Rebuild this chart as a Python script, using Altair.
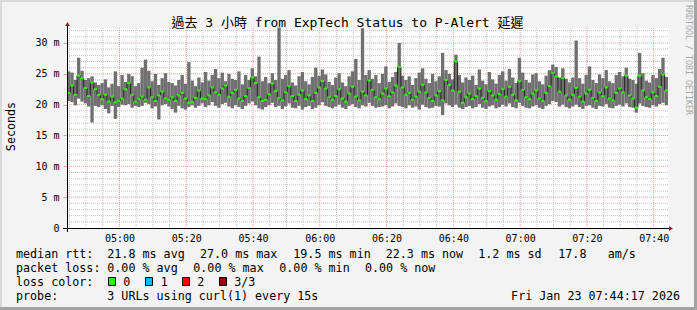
import altair as alt
import pandas as pd

# ------------------------------------------------------------------ data
TITLE = "過去 3 小時 from ExpTech Status to P-Alert 延遲"
START_MIN = 44 + 17 / 60          # 04:44:17, minutes after 04:00
STEP_MIN = 1.0                    # one column per minute
N_COLS = 180

median_ms = [
    21.9, 23.1, 21.6, 24.7, 24.3, 22.7, 21.4, 23.6, 22.5, 21.6,
    20.9, 21.6, 20.5, 21.3, 20.4, 20.6, 21.0, 22.5, 23.5, 21.6,
    20.5, 20.9, 21.3, 20.8, 22.8, 21.2, 20.6, 21.5, 22.1, 21.0,
    20.8, 21.2, 20.6, 21.5, 21.9, 21.0, 20.3, 20.4, 21.1, 22.3,
    21.0, 20.9, 21.5, 22.8, 22.0, 21.6, 22.6, 23.1, 21.3, 21.9,
    22.4, 21.0, 20.6, 21.4, 22.7, 24.4, 23.5, 21.2, 20.6, 20.8,
    21.7, 23.4, 22.2, 21.1, 20.7, 22.0, 23.0, 21.4, 20.6, 21.6,
    22.3, 20.9, 21.5, 20.6, 21.9, 22.8, 23.8, 22.6, 21.2, 20.8,
    21.4, 22.5, 21.0, 20.5, 21.8, 22.9, 21.3, 20.7, 22.1, 21.5,
    23.9, 22.4, 21.2, 20.9, 21.8, 22.6, 21.4, 22.0, 23.1, 26.1,
    22.8, 21.6, 21.9, 20.8, 21.3, 22.1, 23.2, 22.0, 21.1, 20.6,
    21.5, 22.2, 20.7, 24.0, 23.2, 22.3, 27.0, 22.1, 20.3, 21.2,
    21.8, 20.9, 21.4, 22.6, 21.1, 20.6, 22.2, 21.5, 20.8, 21.7,
    22.5, 21.3, 22.9, 21.6, 20.7, 23.8, 22.4, 21.2, 20.9, 21.8,
    22.3, 21.0, 20.6, 21.9, 23.0, 25.1, 24.6, 22.1, 24.3, 21.5,
    20.8, 21.6, 22.7, 21.3, 20.5, 21.8, 22.4, 21.1, 20.6, 22.0,
    21.4, 22.8, 21.0, 20.7, 21.9, 22.6, 22.0, 24.7, 21.5, 21.0,
    19.5, 24.7, 22.3, 21.2, 20.9, 22.0, 21.4, 22.9, 24.9, 22.3,
]
max_ms = [
    25.4, 25.2, 24.0, 27.6, 25.5, 24.0, 24.3, 24.6, 23.6, 23.2,
    23.5, 24.1, 22.8, 23.4, 25.4, 23.0, 24.8, 23.7, 25.0, 24.6,
    23.0, 23.5, 26.0, 27.3, 25.5, 23.8, 25.0, 23.2, 24.3, 25.1,
    23.7, 23.5, 23.1, 24.0, 24.8, 23.4, 26.9, 23.9, 23.0, 24.4,
    23.6, 25.3, 23.9, 24.8, 25.8, 24.3, 25.2, 23.8, 25.0, 24.2,
    24.0, 25.4, 23.3, 24.8, 24.0, 25.9, 24.6, 27.8, 23.8, 24.5,
    23.5, 25.1, 24.0, 32.5, 24.2, 24.8, 25.6, 23.6, 23.1, 24.6,
    25.3, 23.8, 23.3, 24.5, 26.0, 24.7, 25.7, 24.9, 23.7, 23.2,
    24.4, 25.1, 23.6, 23.0, 24.6, 25.4, 27.4, 24.0, 32.4, 24.8,
    25.6, 24.2, 24.8, 23.5, 25.0, 26.2, 23.7, 24.5, 25.3, 30.0,
    24.7, 24.0, 24.6, 23.2, 24.3, 25.2, 25.9, 24.2, 23.5, 25.0,
    23.8, 24.6, 28.4, 25.6, 25.0, 24.1, 28.1, 24.8, 23.6, 24.4,
    24.0, 24.7, 23.2, 25.7, 23.9, 23.3, 25.3, 24.1, 23.4, 24.8,
    25.4, 23.9, 25.8, 24.4, 23.5, 27.6, 25.2, 24.0, 23.6, 24.9,
    25.1, 23.8, 23.3, 24.7, 25.6, 26.5, 26.1, 24.4, 25.9, 24.2,
    23.6, 24.4, 30.4, 24.3, 23.4, 24.8, 26.2, 24.0, 23.5, 24.9,
    24.3, 25.6, 23.8, 23.5, 24.8, 25.3, 24.6, 26.0, 24.2, 24.0,
    23.4, 28.4, 25.1, 23.9, 23.6, 24.8, 24.3, 25.8, 27.6, 24.5,
]
min_ms = [
    20.6, 20.4, 19.9, 21.0, 20.5, 20.2, 19.7, 17.1, 19.8, 19.6,
    19.9, 19.3, 18.6, 19.8, 17.7, 19.6, 20.0, 19.9, 20.1, 19.5,
    19.8, 19.6, 19.8, 20.3, 20.1, 19.4, 19.7, 17.6, 19.9, 20.1,
    19.7, 19.3, 18.7, 19.8, 19.4, 19.2, 19.6, 19.9, 19.5, 19.8,
    20.2, 19.6, 19.9, 20.4, 19.8, 19.5, 20.1, 20.3, 19.7, 19.4,
    19.9, 19.6, 19.3, 19.8, 20.2, 20.5, 19.9, 19.4, 19.2, 19.6,
    19.9, 20.3, 19.6, 19.8, 19.3, 19.7, 20.2, 19.5, 19.4, 19.8,
    19.2, 19.6, 19.8, 19.3, 19.5, 19.9, 20.4, 19.8, 19.6, 19.4,
    19.7, 20.0, 19.5, 19.3, 19.8, 20.1, 19.6, 19.4, 19.9, 19.7,
    20.3, 19.8, 19.5, 19.6, 19.7, 19.9, 19.4, 19.7, 20.2, 19.8,
    19.6, 19.4, 19.9, 19.5, 19.7, 19.2, 20.0, 19.6, 19.4, 19.5,
    19.8, 19.7, 18.3, 20.2, 19.9, 19.6, 20.0, 19.5, 19.3, 19.6,
    19.8, 19.4, 19.6, 20.1, 19.5, 19.3, 19.7, 19.9, 19.4, 19.6,
    20.0, 19.7, 20.2, 19.6, 19.4, 20.3, 19.8, 19.5, 19.4, 19.7,
    19.9, 19.5, 19.3, 19.8, 20.1, 20.6, 20.4, 19.7, 20.0, 19.6,
    19.4, 19.7, 20.0, 19.6, 19.3, 19.8, 19.9, 19.5, 19.3, 19.8,
    19.7, 20.1, 19.5, 19.4, 19.8, 20.0, 19.7, 20.2, 19.6, 19.5,
    18.7, 20.2, 19.8, 19.6, 19.5, 19.9, 19.7, 20.1, 20.3, 19.9,
]

x_tick_minutes = [60, 80, 100, 120, 140, 160, 180, 200, 220]
x_tick_labels = ["05:00", "05:20", "05:40", "06:00", "06:20", "06:40", "07:00", "07:20", "07:40"]
y_tick_values = [0, 5, 10, 15, 20, 25, 30]
y_tick_labels = ["0", "5 m", "10 m", "15 m", "20 m", "25 m", "30 m"]
Y_MAX = 32.43

legend_row1 = ["median rtt:", "21.8 ms avg", "27.0 ms max", "19.5 ms min", "22.3 ms now", "1.2 ms sd", "17.8", "am/s"]
legend_row2 = ["packet loss:", "0.00 % avg", "0.00 % max", "0.00 % min", "0.00 % now"]
loss_labels = ["0", "1", "2", "3/3"]
loss_colors = ["#26ff00", "#00b8ff", "#ff0000", "#a00000"]
probe_text = ["probe:", "3 URLs using curl(1) every 15s"]
date_text = "Fri Jan 23 07:44:17 2026"
side_text = "RRDTOOL / TOBI OETIKER"

# ------------------------------------------------------------------ layout
W, H = 601, 200
OX, OY = 67, 28
MONO = "DejaVu Sans Mono"
BG = "#f3f3f3"
SMOKE = "#707070"
MINOR = "#c4c4c4"
MAJOR = "#f09a9a"

t0 = [START_MIN + i * STEP_MIN for i in range(N_COLS)]
df = pd.DataFrame({
    "t0": t0,
    "t1": [t + STEP_MIN for t in t0],
    "lo": min_ms,
    "hi": max_ms,
    "med": median_ms,
})
line_df = pd.DataFrame({
    "t": t0 + [t0[-1] + STEP_MIN],
    "med": median_ms + [median_ms[-1]],
})

xs = alt.Scale(domain=[START_MIN, START_MIN + N_COLS * STEP_MIN], nice=False, zero=False)
ys = alt.Scale(domain=[0, Y_MAX], nice=False, zero=False)


def ternary(values, labels, default="''"):
    expr = default
    for v, l in zip(values, labels):
        expr = f"datum.value == {v} ? '{l}' : ({expr})"
    return expr


x_axis = alt.Axis(values=x_tick_minutes, labelExpr=ternary(x_tick_minutes, x_tick_labels),
                  grid=False, domain=False, tickSize=0, labelPadding=5, labelOverlap=False,
                  labelFont=MONO, labelFontSize=10, labelColor="#000000", title=None)
y_axis = alt.Axis(values=y_tick_values, labelExpr=ternary(y_tick_values, y_tick_labels),
                  grid=False, domain=False, tickSize=4, tickColor=MAJOR, labelOverlap=False,
                  labelPadding=4, labelFont=MONO, labelFontSize=10,
                  labelColor="#000000", title=None)


def X(field):
    return alt.X(field, scale=xs, axis=x_axis, title=None)


def Y(field):
    return alt.Y(field, scale=ys, axis=y_axis, title=None)


# grid rules
y_minor = [v for v in range(1, 33) if v % 5 != 0]
y_major = [v for v in y_tick_values if v > 0]
x_minor = [m for m in range(45, 225, 5) if m % 20 != 0]


def hgrid(vals, color):
    return alt.Chart(pd.DataFrame({"gv": vals})).mark_rule(
        color=color, strokeDash=[1, 1], strokeWidth=1
    ).encode(y=Y("gv:Q"), x=alt.value(0), x2=alt.value(W))


def vgrid(vals, color):
    return alt.Chart(pd.DataFrame({"gh": vals})).mark_rule(
        color=color, strokeDash=[1, 1], strokeWidth=1
    ).encode(x=X("gh:Q"), y=alt.value(0), y2=alt.value(H))


smoke = alt.Chart(df).mark_rect(color=SMOKE).encode(
    x=X("t0:Q"), x2="t1:Q", y=Y("lo:Q"), y2="hi:Q",
)

med_line = alt.Chart(line_df).mark_line(
    interpolate="step-after", color="#202020", strokeWidth=1
).encode(x=X("t:Q"), y=Y("med:Q"))

med_dash = alt.Chart(df).mark_rule(color=loss_colors[0], strokeWidth=2).encode(
    x=X("t0:Q"), x2="t1:Q", y=Y("med:Q")
)

ONE = alt.Data(values=[{"k": 1}])


def txt(s, x, y, size=11.7, align="left", color="#000000", angle=0, baseline="alphabetic", font=MONO):
    return alt.Chart(ONE).mark_text(
        text=s, align=align, baseline=baseline, font=font, fontSize=size,
        color=color, angle=angle
    ).encode(x=alt.value(x - OX), y=alt.value(y - OY))


def box(x1, x2, y1, y2, fill, stroke="#000000", sw=1):
    return alt.Chart(ONE).mark_rect(fill=fill, stroke=stroke, strokeWidth=sw).encode(
        x=alt.value(x1 - OX), x2=alt.value(x2 - OX),
        y=alt.value(y1 - OY), y2=alt.value(y2 - OY))


def hline(x1, x2, y, color, sw=1):
    return alt.Chart(ONE).mark_rule(color=color, strokeWidth=sw).encode(
        x=alt.value(x1 - OX), x2=alt.value(x2 - OX), y=alt.value(y - OY))


def vline(x, y1, y2, color, sw=1):
    return alt.Chart(ONE).mark_rule(color=color, strokeWidth=sw).encode(
        x=alt.value(x - OX), y=alt.value(y1 - OY), y2=alt.value(y2 - OY))


layers = [hgrid(y_minor, MINOR), vgrid(x_minor, MINOR),
          hgrid(y_major, MAJOR), vgrid(x_tick_minutes, MAJOR),
          smoke, med_line, med_dash]

# axes lines and arrows
layers.append(hline(63, 670, 228.5, "#000000"))
layers.append(vline(67.5, 232, 25, "#000000"))
layers.append(alt.Chart(ONE).mark_point(shape="triangle-up", filled=True, color="#8b1a1a", size=22, opacity=1)
              .encode(x=alt.value(67.5 - OX), y=alt.value(24 - OY)))
layers.append(alt.Chart(ONE).mark_point(shape="triangle-right", filled=True, color="#8b1a1a", size=22, opacity=1)
              .encode(x=alt.value(671 - OX), y=alt.value(228.5 - OY)))

# title and side texts
layers.append(txt(TITLE, 347.5, 26.5, size=13, align="center",
                  font="DejaVu Sans Mono, Noto Sans CJK TC"))
layers.append(txt("Seconds", 10.5, 126.5, align="center", baseline="middle", angle=270))
layers.append(txt(side_text, 688, 60, size=8.3, align="center", baseline="middle",
                  angle=90, color="#a8a8a8"))

# legend rows
row1_x = [16, 107.3, 200, 293.3, 385.7, 478.3, 558.3, 607.7]
for s, x in zip(legend_row1, row1_x):
    layers.append(txt(s, x, 258))
row2_x = [16, 107.3, 193.3, 279.3, 365]
for s, x in zip(legend_row2, row2_x):
    layers.append(txt(s, x, 272))
layers.append(txt("loss color:", 16, 286))
box_x = [108.5, 145.5, 182.5, 219.5]
lab_x = [123.3, 160.7, 197.3, 234.3]
for lab, col, bx, lx in zip(loss_labels, loss_colors, box_x, lab_x):
    layers.append(box(bx, bx + 7, 277.5, 285.5, col))
    layers.append(txt(lab, lx, 286))
layers.append(txt(probe_text[0], 16, 300))
layers.append(txt(probe_text[1], 107.3, 300))
layers.append(txt(date_text, 680, 300, align="right"))

# frame edges
layers.append(box(0, 697, 0, 2, "#d9d9d9", stroke="transparent", sw=0))
layers.append(box(0, 2, 0, 310, "#d9d9d9", stroke="transparent", sw=0))
layers.append(box(0, 697, 307, 310, "#a3a3a3", stroke="transparent", sw=0))
layers.append(box(694, 697, 0, 310, "#a3a3a3", stroke="transparent", sw=0))

chart = alt.layer(*layers).properties(
    width=W, height=H,
    autosize=alt.AutoSizeParams(type="none"),
    padding={"left": OX, "top": OY, "right": 697 - OX - W, "bottom": 310 - OY - H},
    background=BG,
).configure_view(fill="#ffffff", stroke="transparent")

chart.save("out.html", embed_options={"renderer": "svg", "actions": False})
